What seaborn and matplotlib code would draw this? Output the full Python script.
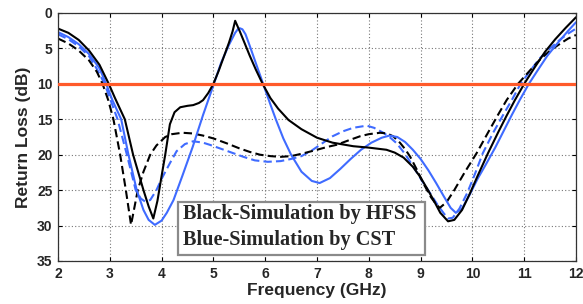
import matplotlib
matplotlib.use("Agg")
import matplotlib.pyplot as plt
from matplotlib.patches import Rectangle
import seaborn as sns
import pandas as pd

# ---- data (Return loss in dB) ----
hfss_solid_f = [2.0, 2.2, 2.4, 2.6, 2.8, 2.98, 3.1, 3.29, 3.45, 3.65, 3.75, 3.84, 3.92, 4.0, 4.07, 4.16,
                4.25, 4.36, 4.5, 4.61, 4.72, 4.8, 4.9, 5.0, 5.1, 5.2, 5.3, 5.37, 5.42, 5.51, 5.6, 5.7,
                5.82, 5.95, 6.1, 6.25, 6.45, 6.7, 7.0, 7.3, 7.7, 8.0, 8.34, 8.5, 8.67, 8.85, 8.99,
                9.12, 9.25, 9.38, 9.53, 9.65, 9.8, 9.95, 10.1, 10.3, 10.5, 10.66, 10.82, 11.0, 11.2,
                11.4, 11.6, 11.8, 12.0]
hfss_solid_rl = [2.2, 2.8, 3.8, 5.3, 7.3, 10.0, 12.0, 15.0, 20.0, 25.0, 27.3, 29.0, 26.5, 23.0, 20.0, 15.7,
                 14.0, 13.3, 13.1, 13.0, 12.7, 12.3, 11.3, 10.0, 8.2, 6.2, 4.2, 2.6, 1.1, 2.6, 4.2, 6.0,
                 8.0, 10.0, 12.0, 13.5, 15.1, 16.4, 17.6, 18.3, 18.8, 19.0, 19.3, 19.7, 20.4, 21.7, 23.1,
                 24.7, 26.4, 28.2, 29.4, 29.2, 27.8, 25.5, 23.0, 19.8, 16.8, 14.5, 12.3, 10.0, 7.7,
                 5.5, 3.7, 2.1, 0.6]

hfss_dash_f = [2.0, 2.2, 2.4, 2.6, 2.75, 2.86, 2.97, 3.07, 3.2, 3.31, 3.41, 3.54, 3.65, 3.78, 3.9, 4.07,
               4.2, 4.4, 4.6, 4.8, 5.0, 5.26, 5.5, 5.7, 5.9, 6.1, 6.3, 6.5, 6.74, 7.0, 7.2, 7.38, 7.6,
               7.83, 8.0, 8.22, 8.35, 8.47, 8.6, 8.7, 8.8, 8.92, 9.05, 9.2, 9.3, 9.37, 9.5, 9.65, 9.85,
               10.08, 10.3, 10.5, 10.66, 10.88, 11.1, 11.3, 11.5, 11.7, 11.85, 12.0]
hfss_dash_rl = [3.6, 4.3, 5.3, 6.7, 8.3, 10.0, 12.3, 15.0, 20.0, 25.0, 29.9, 25.0, 22.4, 20.0, 18.7, 17.5,
                17.1, 16.9, 17.0, 17.3, 17.7, 18.4, 19.1, 19.6, 20.0, 20.2, 20.3, 20.2, 19.8, 19.3, 18.9,
                18.6, 18.0, 17.4, 17.1, 16.9, 17.0, 17.4, 18.3, 19.2, 20.3, 22.0, 24.0, 26.0, 27.0, 27.5,
                26.7, 25.0, 22.5, 19.8, 16.9, 14.3, 12.3, 10.0, 8.2, 6.6, 5.3, 4.3, 3.6, 3.1]

cst_solid_f = [2.0, 2.2, 2.4, 2.6, 2.8, 2.93, 3.05, 3.22, 3.36, 3.52, 3.65, 3.75, 3.87, 4.0, 4.1, 4.23,
               4.4, 4.6, 4.8, 5.0, 5.15, 5.3, 5.42, 5.47, 5.51, 5.56, 5.62, 5.7, 5.83, 5.96, 6.1, 6.21,
               6.35, 6.5, 6.7, 6.9, 7.05, 7.25, 7.45, 7.65, 7.85, 8.05, 8.25, 8.4, 8.55, 8.7, 8.85, 9.0,
               9.15, 9.3, 9.45, 9.58, 9.68, 9.8, 9.95, 10.1, 10.25, 10.44, 10.6, 10.76, 10.92, 11.09,
               11.25, 11.45, 11.65, 11.85, 12.0]
cst_solid_rl = [2.7, 3.4, 4.4, 5.8, 7.8, 10.0, 12.3, 15.0, 20.0, 25.0, 27.8, 29.2, 29.9, 29.3, 28.2, 26.4,
                23.0, 18.9, 14.4, 10.2, 7.0, 4.5, 2.8, 2.3, 2.15, 2.3, 3.0, 4.6, 7.3, 10.0, 12.9, 15.1,
                17.7, 20.0, 22.4, 23.7, 24.0, 23.3, 22.0, 20.6, 19.3, 18.3, 17.6, 17.3, 17.5, 18.2, 19.3,
                20.6, 22.2, 24.0, 25.9, 27.5, 28.2, 27.6, 25.6, 23.4, 21.5, 19.0, 16.7, 14.4, 12.2, 10.0,
                8.2, 6.0, 4.2, 2.5, 1.3]

cst_dash_f = [2.0, 2.2, 2.4, 2.6, 2.75, 2.9, 3.02, 3.15, 3.33, 3.5, 3.6, 3.68, 3.78, 3.9, 4.0, 4.16, 4.29,
              4.45, 4.61, 4.8, 4.93, 5.2, 5.58, 5.8, 6.05, 6.3, 6.5, 6.7, 6.9, 7.1, 7.3, 7.5, 7.7, 7.96,
              8.1, 8.28, 8.4, 8.54, 8.7, 8.86, 9.02, 9.18, 9.33, 9.45, 9.53, 9.62, 9.75, 9.9, 10.05,
              10.2, 10.4, 10.6, 10.76, 10.93, 11.1, 11.3, 11.5, 11.7, 11.85, 12.0]
cst_dash_rl = [3.0, 3.7, 4.7, 6.1, 7.9, 10.0, 12.4, 15.0, 20.0, 25.0, 26.2, 26.6, 26.4, 25.0, 23.4, 21.2,
               19.5, 18.5, 18.1, 18.3, 18.6, 19.3, 20.3, 20.8, 21.0, 20.9, 20.6, 20.2, 19.4, 18.4, 17.4,
               16.7, 16.2, 15.9, 16.2, 16.9, 17.5, 18.4, 19.9, 21.7, 23.6, 25.4, 27.1, 28.3, 29.0, 28.9,
               27.6, 25.4, 22.7, 19.8, 16.9, 14.3, 12.3, 10.0, 8.3, 6.4, 5.0, 3.7, 2.9, 2.2]

threshold_db = 10
x_ticks = [2, 3, 4, 5, 6, 7, 8, 9, 10, 11, 12]
y_ticks = [0, 5, 10, 15, 20, 25, 30, 35]
legend_lines = ["Black-Simulation by HFSS", "Blue-Simulation by CST"]

BLUE = "#3F6BFF"
RED = "#FF5A2A"

sns.set_theme(style="white")
plt.rcParams['font.family'] = ['Liberation Sans', 'DejaVu Sans']

W, H = 583, 304
fig = plt.figure(figsize=(W / 100, H / 100), dpi=100)
ax = fig.add_axes([58 / W, 1 - 261 / H, (576 - 58) / W, (261 - 13) / H])

series = [
    (cst_dash_f, cst_dash_rl, BLUE, (4, 2)),
    (hfss_dash_f, hfss_dash_rl, "black", (4, 2)),
    (cst_solid_f, cst_solid_rl, BLUE, None),
    (hfss_solid_f, hfss_solid_rl, "black", None),
]
for f, rl, col, dash in series:
    df = pd.DataFrame({"f": f, "rl": rl})
    l = sns.lineplot(data=df, x="f", y="rl", ax=ax, sort=False, estimator=None,
                     color=col, linewidth=1.5)
    ln = l.lines[-1]
    ln.set_solid_joinstyle("round")
    ln.set_dash_joinstyle("round")
    if dash is not None:
        ln.set_dashes(dash)

ax.axhline(threshold_db, color=RED, linewidth=2.3, zorder=5)

ax.set_xlim(2, 12)
ax.set_ylim(35, 0)
ax.set_xticks(x_ticks)
ax.set_yticks(y_ticks)
ax.set_xticklabels([str(t) for t in x_ticks], fontweight="bold", fontsize=10)
ax.set_yticklabels([str(t) for t in y_ticks], fontweight="bold", fontsize=10)
ax.tick_params(direction="in", length=3, width=0.8, color="black", pad=4,
               top=True, right=True, bottom=True, left=True)
ax.grid(True, linestyle=(0, (1, 2)), color="#777777", linewidth=0.8)
for s in ax.spines.values():
    s.set_visible(True)
    s.set_color("#333333")
    s.set_linewidth(0.9)

ax.set_xlabel("Frequency (GHz)", fontweight="bold", fontsize=12.5, labelpad=2)
ax.set_ylabel("Return Loss (dB)", fontweight="bold", fontsize=12.5, labelpad=4)

# legend-like annotation box
bx0, bx1, by0, by1 = 178, 425, 202, 255
fig.patches.append(Rectangle((bx0 / W, 1 - by1 / H), (bx1 - bx0) / W, (by1 - by0) / H,
                             transform=fig.transFigure, facecolor="white",
                             edgecolor="#8a8a8a", linewidth=1.6, zorder=10))
for i, txt in enumerate(legend_lines):
    fig.text(183 / W, 1 - (214 + 26 * i) / H, txt, family=["Liberation Serif", "DejaVu Serif"],
             fontweight="bold", fontsize=14.6, ha="left", va="center", zorder=11)

fig.savefig("out.png", dpi=100)
